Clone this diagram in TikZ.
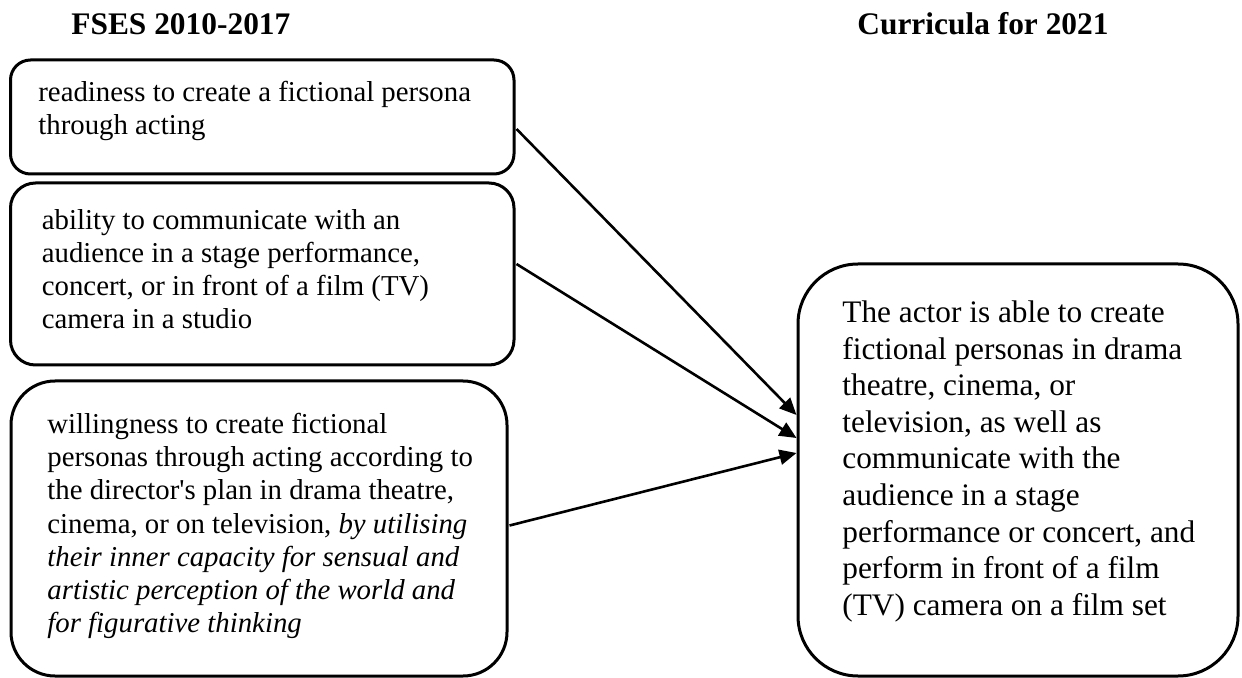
\documentclass[tikz,border=0pt]{standalone}
\usepackage{fontspec}
\setmainfont{Liberation Serif}
\usetikzlibrary{arrows.meta,calc}
\begin{document}
\begin{tikzpicture}[x=0.5pt,y=-0.5pt,
  box/.style={draw,line width=1.5pt,inner sep=0pt},
  lefttext/.style={font=\fontsize{14.4pt}{16.6pt}\selectfont,align=left,anchor=north west,inner sep=0pt},
  righttext/.style={font=\fontsize{15.65pt}{18.3pt}\selectfont,align=left,anchor=north west,inner sep=0pt},
  heading/.style={font=\fontsize{15.7pt}{18pt}\selectfont\bfseries,anchor=base west,inner sep=0pt},
  conn/.style={line width=1.3pt,-{Triangle[length=8.5pt,width=7.5pt]}}]
\useasboundingbox (0,0) rectangle (1242,678);

% headings
\node[heading] (h1) at (71,35) {FSES 2010-2017};
\node[heading] (h2) at (857,35) {Curricula for 2021};

% left boxes
\node[box,rounded corners=10pt,minimum width=251.75pt,minimum height=57pt] (b1) at (262.25,117) {};
\node[lefttext] (t1) at (38,75) {\rule{0pt}{13pt}readiness to create a fictional persona\\through acting};

\node[box,rounded corners=12.5pt,minimum width=251.75pt,minimum height=91pt] (b2) at (262.25,274) {};
\node[lefttext] (t2) at (41.5,203) {\rule{0pt}{13pt}ability to communicate with an\\audience in a stage performance,\\concert, or in front of a film (TV)\\camera in a studio};

\node[box,rounded corners=22pt,minimum width=248pt,minimum height=147.5pt] (b3) at (259,528.5) {};
\node[lefttext] (t3) at (47,407) {\rule{0pt}{13pt}willingness to create fictional\\personas through acting according to\\the director\textquotesingle s plan in drama theatre,\\cinema, or on television, \textit{by utilising}\\\textit{their inner capacity for sensual and}\\\textit{artistic perception of the world and}\\\textit{for figurative thinking}};

% right box
\node[box,rounded corners=30pt,minimum width=220pt,minimum height=206pt] (r) at (1018,470) {};
\node[righttext] (tr) at (842,294) {\rule{0pt}{14pt}The actor is able to create\\fictional personas in drama\\theatre, cinema, or\\television, as well as\\communicate with the\\audience in a stage\\performance or concert, and\\perform in front of a film\\(TV) camera on a film set};

% connectors
\draw[conn] ($(b1.east)+(1,12)$) -- ($(r.west)+(0,-55)$);
\draw[conn] ($(b2.east)+(1,-10)$) -- ($(r.west)+(0,-32)$);
\draw[conn] ($(b3.east)+(1,-3)$) -- ($(r.west)+(0,-17)$);
\end{tikzpicture}
\end{document}
